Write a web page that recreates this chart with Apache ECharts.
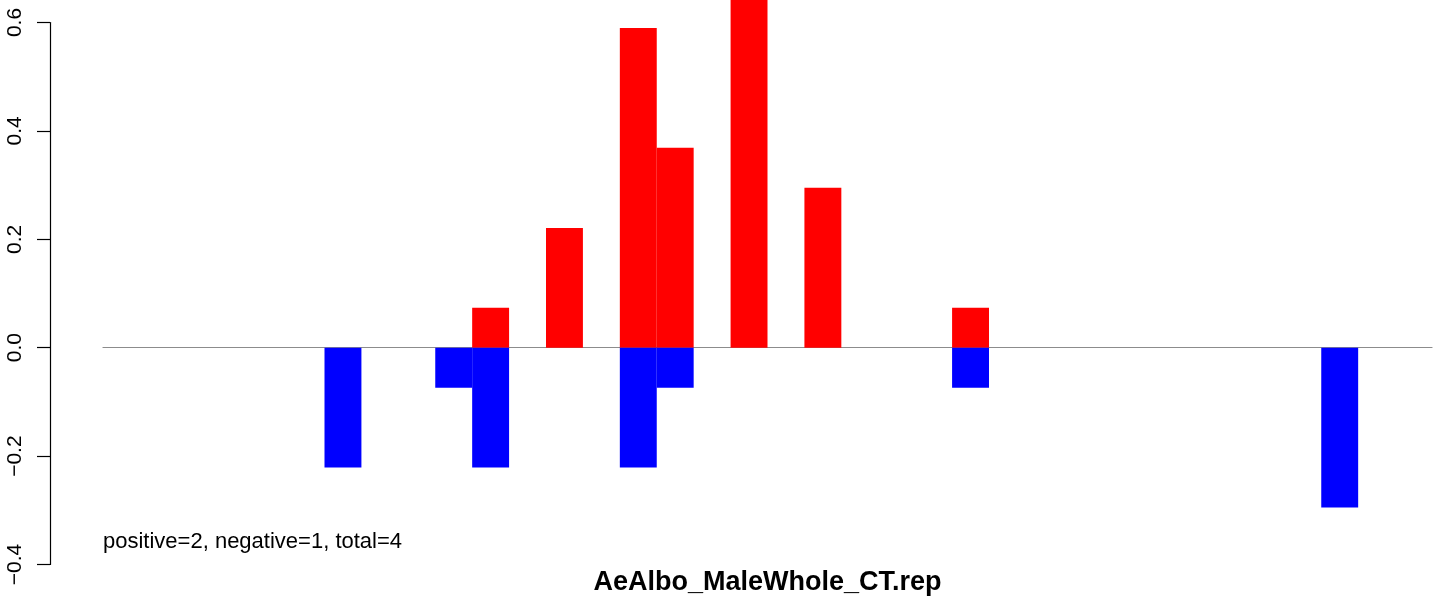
<!DOCTYPE html>
<html>
<head>
<meta charset="utf-8">
<script src="https://cdn.jsdelivr.net/npm/echarts@6/dist/echarts.min.js"></script>
<style>
html,body{margin:0;padding:0;background:#fff;}
#chart{width:1444px;height:596px;}
</style>
</head>
<body>
<div id="chart"></div>
<script>
const categories = ['1','2','3','4','5','6','7','8','9','10','11','12','13','14','15','16','17','18',
  '19','20','21','22','23','24','25','26','27','28','29','30','31','32','33','34','35','36'];
const positiveValues = [null,null,null,null,null,null,null,null,null,null,0.0737,null,0.221,null,0.590,0.369,null,0.663,
  null,0.295,null,null,null,0.0737,null,null,null,null,null,null,null,null,null,null,null,null];
const negativeValues = [null,null,null,null,null,null,-0.221,null,null,-0.0737,-0.221,null,null,null,-0.221,-0.0737,null,null,
  null,null,null,null,null,-0.0737,null,null,null,null,null,null,null,null,null,-0.295,null,null];
const yTicks = { min: -0.4, max: 0.6, step: 0.2 };
const noteText = 'positive=2, negative=1, total=4';
const titleText = 'AeAlbo_MaleWhole_CT.rep';

const chart = echarts.init(document.getElementById('chart'), null, { renderer: 'canvas' });
const FONT = '"Liberation Sans", Arial, Helvetica, sans-serif';
chart.setOption({
  animation: false,
  backgroundColor: '#ffffff',
  grid: { left: 103, right: 12, top: 22.5, bottom: 31.5 },
  xAxis: {
    type: 'category',
    data: categories,
    axisLine: { show: true, onZero: true, lineStyle: { color: '#8c8c8c', width: 1.2 } },
    axisTick: { show: false },
    axisLabel: { show: false },
    splitLine: { show: false }
  },
  yAxis: {
    type: 'value',
    min: yTicks.min,
    max: yTicks.max,
    interval: yTicks.step,
    offset: 53,
    splitLine: { show: false },
    axisLine: { show: true, lineStyle: { color: '#000', width: 1.2 } },
    axisTick: { show: true, length: 13, lineStyle: { color: '#000', width: 1.2 } },
    axisLabel: {
      rotate: 90,
      margin: 24,
      fontSize: 21,
      fontFamily: FONT,
      color: '#000',
      formatter: v => (Math.abs(v) < 1e-9 ? 0 : v).toFixed(1).replace('-', '\u2212')
    }
  },
  series: [
    {
      type: 'bar',
      data: positiveValues,
      barWidth: '100%',
      barGap: '-100%',
      clip: false,
      itemStyle: { color: '#ff0000' }
    },
    {
      type: 'bar',
      data: negativeValues,
      barWidth: '100%',
      barGap: '-100%',
      clip: false,
      itemStyle: { color: '#0000ff' }
    }
  ],
  graphic: [
    {
      type: 'text',
      x: 103,
      y: 542,
      style: { text: noteText, font: '22px ' + FONT, fill: '#000', textAlign: 'left', textVerticalAlign: 'middle', verticalAlign: 'middle' }
    },
    {
      type: 'text',
      x: 767.5,
      y: 583,
      style: { text: titleText, font: 'bold 27px ' + FONT, fill: '#000', textAlign: 'center', align: 'center', textVerticalAlign: 'middle', verticalAlign: 'middle' }
    }
  ]
});
</script>
</body>
</html>
